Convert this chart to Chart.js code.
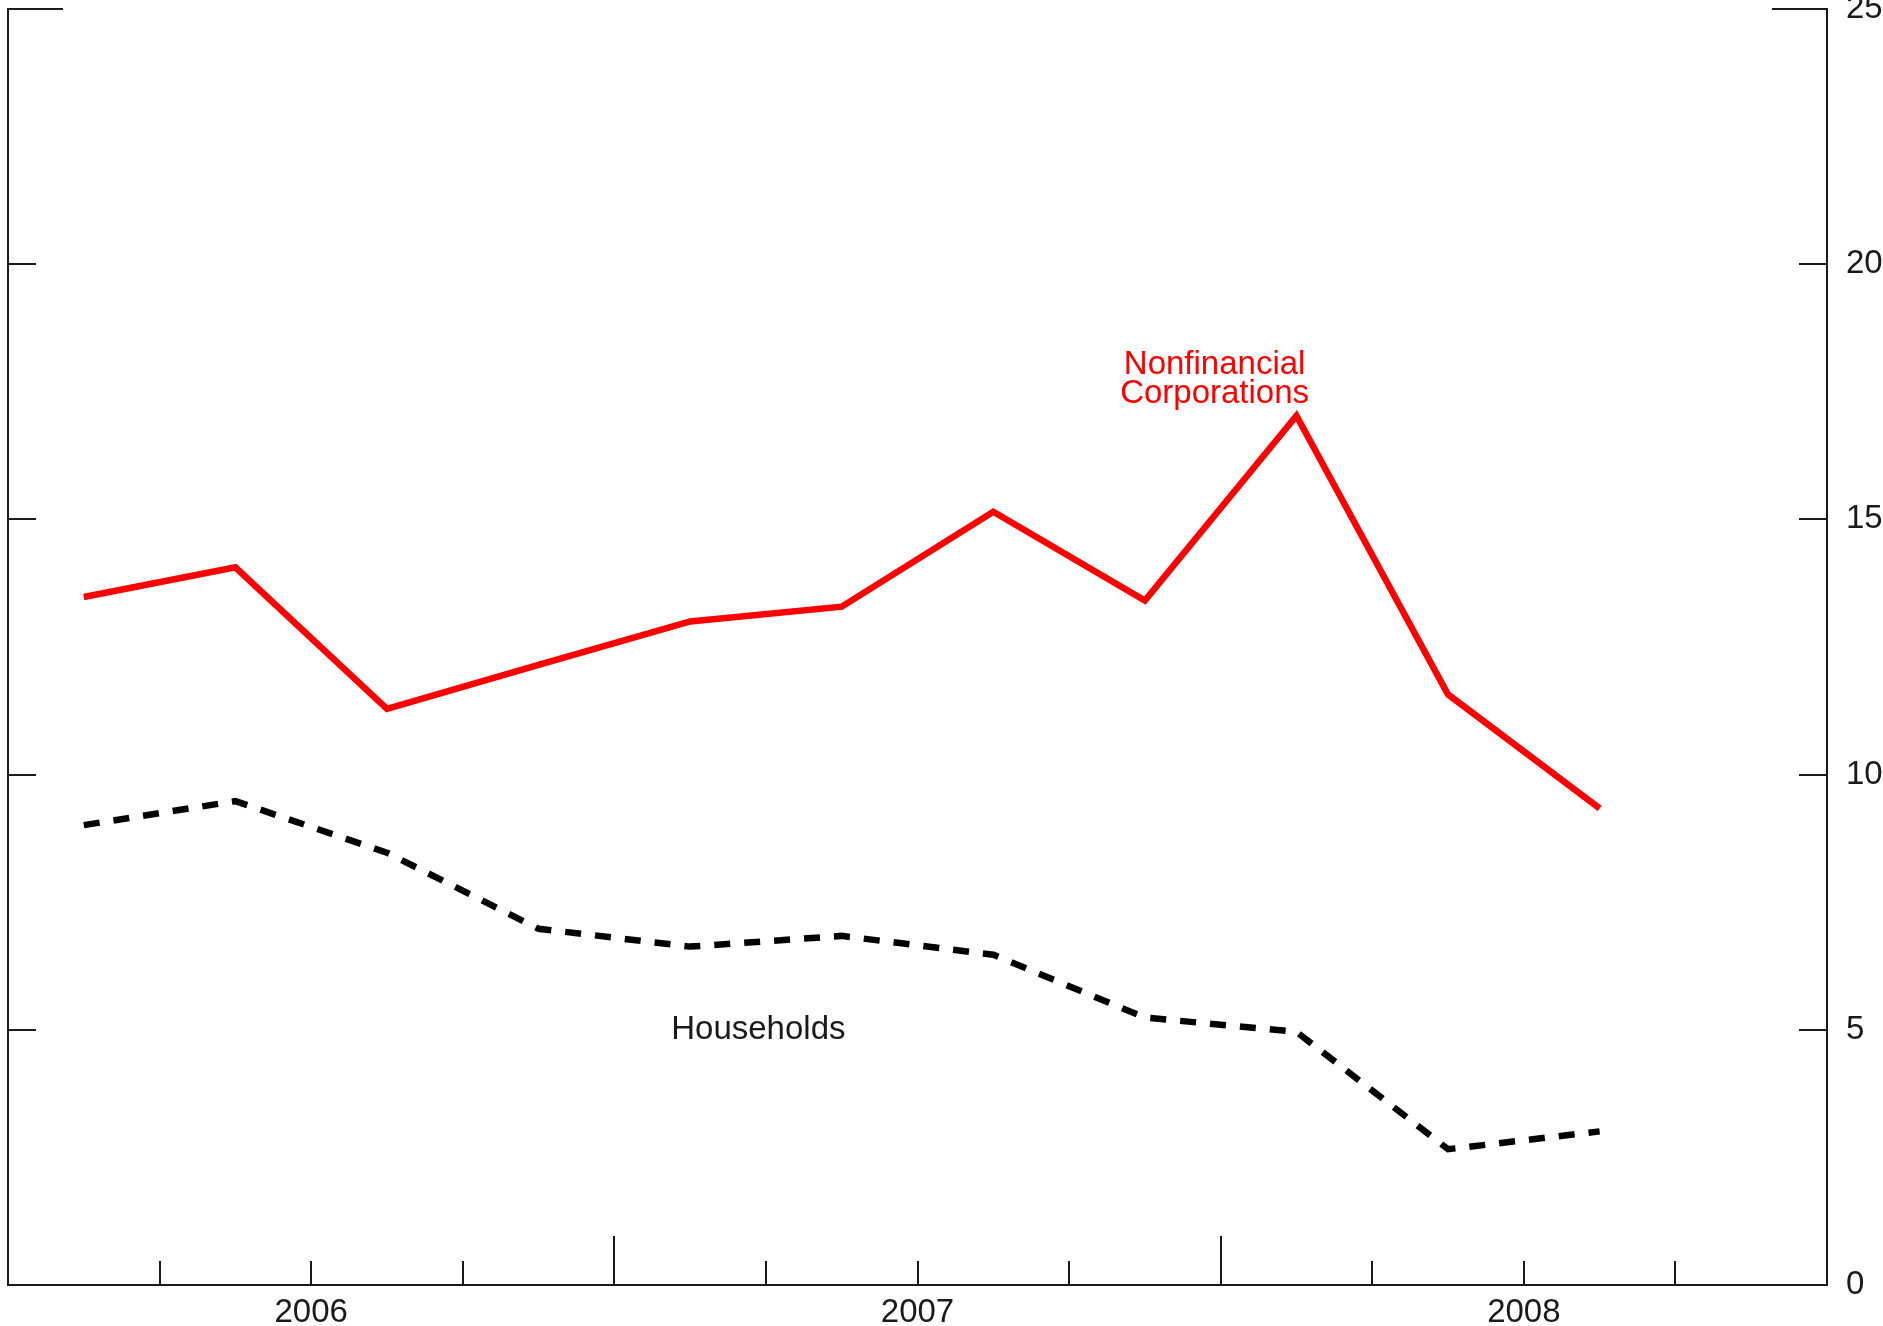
<!DOCTYPE html>
<html>
<head>
<meta charset="utf-8">
<script src="https://cdn.jsdelivr.net/npm/chart.js@4/dist/chart.umd.min.js"></script>
<style>
  html, body { margin: 0; padding: 0; background: #ffffff; }
  canvas { display: block; }
</style>
</head>
<body>
<canvas id="c" width="1883" height="1326"></canvas>
<script>
// Quarterly observations, 2006:Q1 through 2008:Q3
const quarters = ['2006Q1','2006Q2','2006Q3','2006Q4',
                  '2007Q1','2007Q2','2007Q3','2007Q4',
                  '2008Q1','2008Q2','2008Q3'];
const nonfinancial = [13.48, 14.06, 11.29, 12.15, 13.00, 13.29, 15.15, 13.41, 17.03, 11.57, 9.34];
const households   = [9.01, 9.48, 8.47, 6.98, 6.63, 6.84, 6.47, 5.24, 4.96, 2.66, 3.01];

// Axis ticks
const yearLabels = ['2006', '2007', '2008'];
const yTickValues = [0, 5, 10, 15, 20, 25];

// Series captions, anchored (block centre) in data units (quarter index, percent)
const householdsLabel = { text: ['Households'], x: 4.95, y: 5.0 };
const nonfinLabel = { text: ['Nonfinancial', 'Corporations'], x: 7.96, y: 17.74 };

const FONT = '"Liberation Sans", Arial, Helvetica, sans-serif';
const FONT_SIZE = 33;
const INK = '#1a1a1a';
const Y_MAX = 25;
const N_QUARTERS = 12;

const toPoints = vals => vals.map((v, i) => ({ x: i + 0.5, y: v }));

// Frame: left/bottom/right axis lines with inward tick marks, plus captions
const framePlugin = {
  id: 'frame',
  beforeDatasetsDraw(chart) {
    const { ctx, chartArea: a, scales: { x, y } } = chart;
    ctx.save();
    ctx.strokeStyle = INK;
    ctx.lineWidth = 2;
    ctx.lineCap = 'square';
    ctx.beginPath();
    ctx.moveTo(a.left, a.top);
    ctx.lineTo(a.left, a.bottom);
    ctx.lineTo(a.right, a.bottom);
    ctx.lineTo(a.right, a.top);
    ctx.stroke();

    ctx.lineCap = 'butt';
    ctx.beginPath();
    yTickValues.forEach(v => {
      if (v === 0) return;
      const py = Math.round(y.getPixelForValue(v));
      const len = v === Y_MAX ? 55 : 28;
      ctx.moveTo(a.left, py); ctx.lineTo(a.left + len, py);
      ctx.moveTo(a.right, py); ctx.lineTo(a.right - len, py);
    });
    for (let q = 1; q < N_QUARTERS; q++) {
      const px = Math.round(x.getPixelForValue(q));
      const len = q % 4 === 0 ? 49 : 24;
      ctx.moveTo(px, a.bottom); ctx.lineTo(px, a.bottom - len);
    }
    ctx.stroke();

    ctx.font = FONT_SIZE + 'px ' + FONT;
    ctx.textAlign = 'center';
    ctx.textBaseline = 'middle';
    const drawLabel = (lab, color) => {
      ctx.fillStyle = color;
      const cx = x.getPixelForValue(lab.x);
      const cy = y.getPixelForValue(lab.y);
      const lh = 29;
      const y0 = cy - (lab.text.length - 1) * lh / 2;
      lab.text.forEach((t, i) => ctx.fillText(t, cx, y0 + i * lh));
    };
    drawLabel(householdsLabel, INK);
    drawLabel(nonfinLabel, '#ff0000');
    ctx.restore();
  }
};

new Chart(document.getElementById('c'), {
  type: 'line',
  data: {
    labels: quarters,
    datasets: [
      {
        label: 'Nonfinancial Corporations',
        data: toPoints(nonfinancial),
        borderColor: '#ff0000',
        borderWidth: 6.5,
        borderJoinStyle: 'miter',
        pointRadius: 0,
        tension: 0,
        fill: false
      },
      {
        label: 'Households',
        data: toPoints(households),
        borderColor: '#000000',
        borderWidth: 6.5,
        borderDash: [16, 14],
        pointRadius: 0,
        tension: 0,
        fill: false
      }
    ]
  },
  options: {
    responsive: false,
    animation: false,
    events: [],
    layout: { padding: { top: 9, left: 8, right: 0, bottom: 0 } },
    plugins: { legend: { display: false }, tooltip: { enabled: false } },
    scales: {
      x: {
        type: 'linear',
        min: 0,
        max: N_QUARTERS,
        afterFit: s => { s.height = 41; s.paddingLeft = 0; s.paddingRight = 0; },
        afterBuildTicks: s => { s.ticks = yearLabels.map((_, i) => ({ value: i * 4 + 2 })); },
        grid: { display: false, drawTicks: false },
        border: { display: false },
        ticks: {
          autoSkip: false,
          maxRotation: 0,
          padding: 8,
          color: INK,
          font: { family: FONT, size: FONT_SIZE },
          callback: v => yearLabels[(v - 2) / 4]
        }
      },
      y: {
        position: 'right',
        min: 0,
        max: Y_MAX,
        afterFit: s => { s.width = 56; s.paddingTop = 0; s.paddingBottom = 0; },
        afterBuildTicks: s => { s.ticks = yTickValues.map(v => ({ value: v })); },
        grid: { display: false, drawTicks: false },
        border: { display: false },
        ticks: {
          padding: 19,
          color: INK,
          font: { family: FONT, size: FONT_SIZE }
        }
      }
    }
  },
  plugins: [framePlugin]
});
</script>
</body>
</html>
